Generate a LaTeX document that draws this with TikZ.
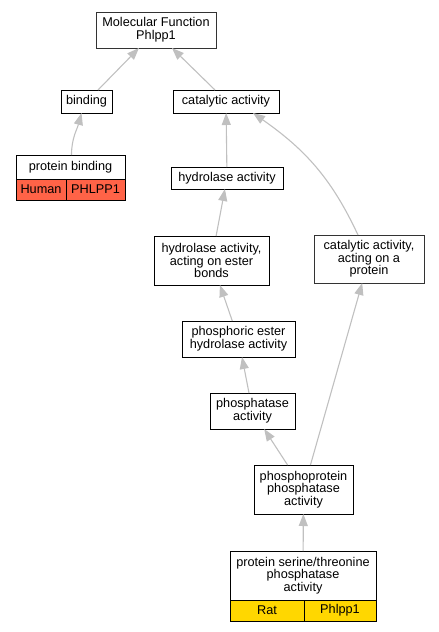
\documentclass[tikz,border=0pt]{standalone}
\usepackage{fontspec}
\setmainfont{Liberation Sans}
\usepackage{xcolor}
\usetikzlibrary{positioning,arrows.meta}
\definecolor{humanrow}{HTML}{FF6347}
\definecolor{ratrow}{HTML}{FFD700}
\definecolor{edgegray}{HTML}{C0C0C0}

\begin{document}
\begin{tikzpicture}[
  x=1pt, y=1pt,
  font=\fontsize{12.7}{12.7}\selectfont,
  term/.style={draw,rectangle,line width=1pt,align=center,inner sep=1pt,outer sep=0pt},
  cell/.style={draw,rectangle,line width=1pt,inner sep=1pt,outer sep=0pt,minimum height=21pt,anchor=north west},
  link/.style={draw=edgegray,line width=1.1pt,-{Triangle[length=12pt,width=9pt]}}
    ]
\useasboundingbox (0,0) rectangle (439,-632);

\node[term,draw=black!80,minimum width=120pt,minimum height=36pt] (mf) at (156,-30) {Molecular Function\\Phlpp1};
\node[term,minimum width=51pt,minimum height=23pt] (bind) at (86.5,-101.5) {binding};
\node[term,minimum width=106pt,minimum height=23pt] (cat) at (226,-101.5) {catalytic activity};
\node[term,minimum width=109pt,minimum height=24pt] (pb) at (70.5,-167) {protein binding};
\node[cell,fill=humanrow,minimum width=50pt] (pbsp) at (pb.south west) {Human};
\node[cell,fill=humanrow,minimum width=59pt] (pbgn) at (pbsp.north east) {PHLPP1};
\node[term,minimum width=112pt,minimum height=22pt] (hyd) at (227,-178) {hydrolase activity};
\node[term,minimum width=115pt,minimum height=49pt] (hes) at (211.5,-260.5) {hydrolase activity,\\acting on ester\\bonds};
\node[term,draw=black!80,minimum width=110pt,minimum height=48pt] (cap) at (369,-259) {catalytic activity,\\acting on a\\protein};
\node[term,minimum width=113pt,minimum height=36pt] (phe) at (238.5,-339) {phosphoric ester\\hydrolase activity};
\node[term,minimum width=85pt,minimum height=36pt] (pha) at (252.5,-411) {phosphatase\\activity};
\node[term,minimum width=99pt,minimum height=49pt] (ppp) at (303.5,-489.5) {phosphoprotein\\phosphatase\\activity};
\node[term,minimum width=146pt,minimum height=49pt] (pst) at (303,-575.5) {protein serine/threonine\\phosphatase\\activity};
\node[cell,fill=ratrow,minimum width=74pt] (pstsp) at (pst.south west) {Rat};
\node[cell,fill=ratrow,minimum width=72pt] (pstgn) at (pstsp.north east) {Phlpp1};

\path[link] ([xshift=11.5pt]bind.north) -- ([xshift=-17pt]mf.south);
\path[link] ([xshift=-11pt]cat.north) -- ([xshift=16pt]mf.south);
\path[link] ([xshift=1pt]pb.north) to[out=90,in=-105] ([xshift=-5pt]bind.south);
\path[link] (hyd) -- (cat);
\path[link] ([xshift=-11pt]cap.north) to[out=115,in=-35] ([xshift=27pt]cat.south);
\path[link] (hes) -- (hyd);
\path[link] (phe) -- (hes);
\path[link] (pha) -- (phe);
\path[link] (ppp) -- (pha);
\path[link] (ppp) -- (cap);
\path[link] (pst) -- (ppp);

\end{tikzpicture}
\end{document}
